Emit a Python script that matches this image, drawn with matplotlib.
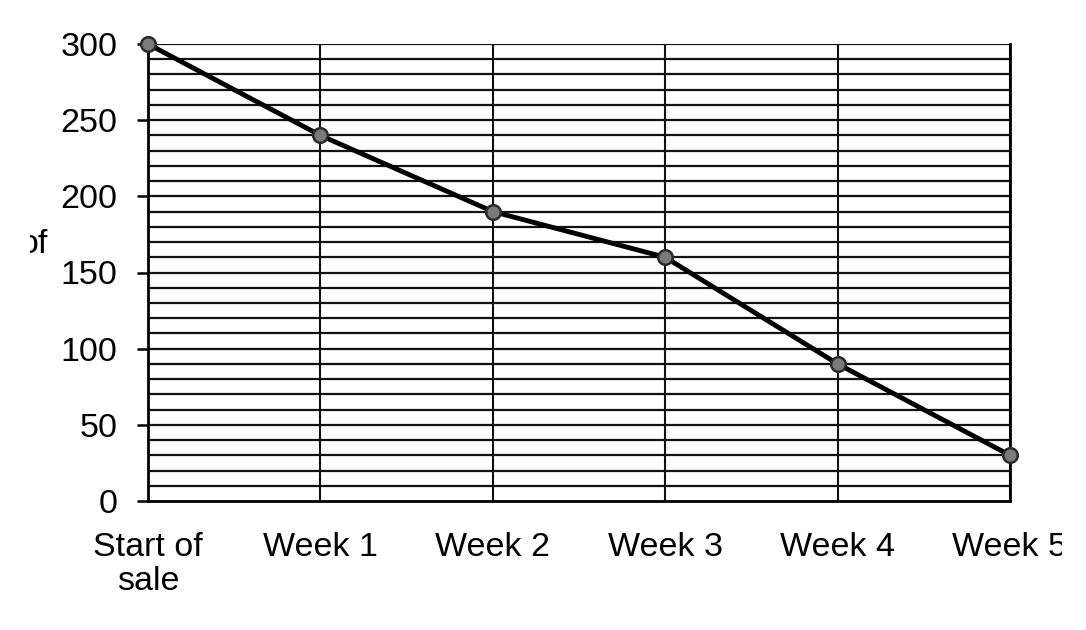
import numpy as np
import matplotlib
matplotlib.use("Agg")
import matplotlib.pyplot as plt
from matplotlib.transforms import Bbox, TransformedBbox

# data
categories = ["Start of\nsale", "Week 1", "Week 2", "Week 3", "Week 4", "Week 5"]
values = [300, 240, 190, 160, 90, 30]
y_ticks = [0, 50, 100, 150, 200, 250, 300]

plt.rcParams['font.family'] = ['Liberation Sans', 'DejaVu Sans']

W, H = 1086, 630
fig = plt.figure(figsize=(W / 100, H / 100), dpi=100)
ax = fig.add_axes([148 / W, 1 - 501 / H, (1010 - 148) / W, (501 - 44) / H])

x = np.arange(len(categories))

# grid: horizontal every 10, vertical at every category
for yv in range(10, 301, 10):
    ax.axhline(yv, color='#111111', lw=1.6, zorder=1)
for xv in x[1:]:
    ax.axvline(xv, color='#111111', lw=1.5, zorder=1)

ax.plot(x, values, color='black', lw=3.5, zorder=3, clip_on=False,
        marker='o', markersize=10.5, markerfacecolor='#7a7a7a',
        markeredgecolor='#2a2a2a', markeredgewidth=1.8)

ax.set_xlim(0, len(categories) - 1)
ax.set_ylim(0, 300)
ax.set_yticks(y_ticks)
ax.set_xticks(x)
ax.set_xticklabels(categories, fontsize=24.5, linespacing=1.15)
ax.tick_params(axis='y', labelsize=24.5, length=8, width=1.8, pad=14, direction='out')
ax.tick_params(axis='x', length=0, pad=22)

for side in ['left', 'bottom', 'right']:
    ax.spines[side].set_linewidth(2)
    ax.spines[side].set_color('black')
ax.spines['top'].set_visible(False)

# the scan cuts off the right part of the last label
last = ax.get_xticklabels()[-1]
last.set_clip_box(TransformedBbox(Bbox([[0, 0], [1062 / W, 1]]), fig.transFigure))
last.set_clip_on(True)

# cut-off remnant of the y axis title at the left edge
t = fig.text(48 / W, 1 - 253 / H, "of", fontsize=24.5, ha='right', va='baseline')
t.set_clip_box(TransformedBbox(Bbox([[30 / W, 0], [1, 1]]), fig.transFigure))
t.set_clip_on(True)

fig.savefig("out.png", dpi=100)
